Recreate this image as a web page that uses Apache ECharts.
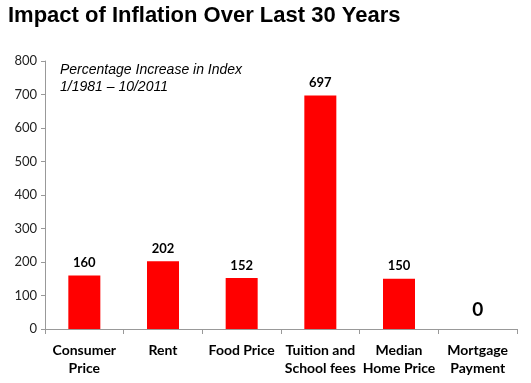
<!DOCTYPE html>
<html><head><meta charset="utf-8">
<script src="https://cdn.jsdelivr.net/npm/echarts@6/dist/echarts.min.js"></script>
<style>html,body{margin:0;padding:0;background:#fff}#c{width:531px;height:383px}</style>
</head><body><div id="c"></div>
<script>
const categories = ['Consumer\nPrice', 'Rent', 'Food Price', 'Tuition and\nSchool fees', 'Median\nHome Price', 'Mortgage\nPayment'];
const values = [160, 202, 152, 697, 150, 0];
const yTicks = [0, 100, 200, 300, 400, 500, 600, 700, 800];

const chart = echarts.init(document.getElementById('c'));
chart.setOption({
  animation: false,
  title: [{
    text: 'Impact of Inflation Over Last 30 Years',
    left: 3, top: 0,
    textStyle: {fontFamily: 'Liberation Sans', fontWeight: 'bold', fontSize: 22, color: '#000'}
  }, {
    text: 'Percentage Increase in Index\n1/1981 \u2013 10/2011',
    left: 55, top: 57,
    textStyle: {fontFamily: 'Liberation Sans', fontStyle: 'italic', fontWeight: 'normal', fontSize: 14, color: '#000', lineHeight: 17}
  }],
  grid: {left: 45, right: 14, top: 61, bottom: 54},
  xAxis: {
    type: 'category', data: categories,
    axisLine: {lineStyle: {color: '#999'}},
    axisTick: {show: true, length: 5, lineStyle: {color: '#999'}},
    axisLabel: {interval: 0, fontFamily: 'Lato', fontWeight: 'bold', fontSize: 14, color: '#000', margin: 12, lineHeight: 18}
  },
  yAxis: {
    type: 'value', min: yTicks[0], max: yTicks[yTicks.length - 1], interval: 100,
    splitLine: {show: false},
    axisLine: {show: true, lineStyle: {color: '#999'}},
    axisTick: {show: true, length: 4, lineStyle: {color: '#999'}},
    axisLabel: {fontFamily: 'Lato', fontSize: 13, color: '#222', margin: 8}
  },
  series: [{
    type: 'bar', barWidth: 32,
    itemStyle: {color: '#ff0000'},
    data: values.map((v, i) => i === values.length - 1 ? {
      value: v,
      label: {fontSize: 19, distance: 10}
    } : v),
    label: {show: true, position: 'top', fontFamily: 'Lato', fontWeight: 'bold', fontSize: 13, color: '#000', distance: 6}
  }]
});
</script></body></html>
